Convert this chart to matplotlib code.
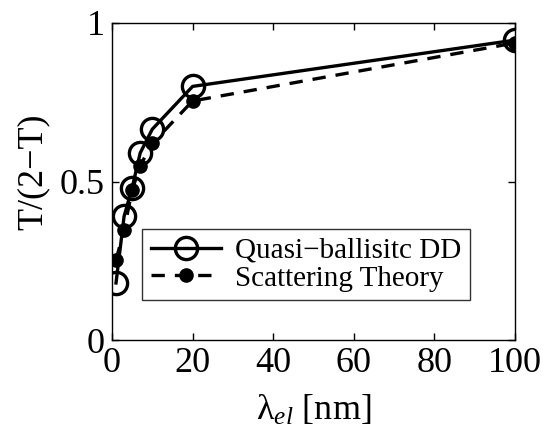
import matplotlib as mpl
mpl.use('Agg')
import matplotlib.pyplot as plt

mpl.rcParams.update({
    'font.family': 'serif',
    'font.serif': ['Liberation Serif', 'DejaVu Serif'],
    'mathtext.fontset': 'custom',
    'mathtext.rm': 'Liberation Serif',
    'mathtext.it': 'Liberation Serif:italic',
})

lam = [1, 3, 5, 7, 10, 20, 100]
dd = [0.18, 0.39, 0.48, 0.59, 0.665, 0.80, 0.946]
st = [0.252, 0.347, 0.473, 0.55, 0.62, 0.754, 0.937]

fig = plt.figure(figsize=(5.5, 4.44), dpi=100)
ax = fig.add_axes([0.2036, 0.2342, 0.7328, 0.714])

ax.plot(lam, dd, '-', color='black', linewidth=2.4, marker='o', markersize=16,
        markerfacecolor='none', markeredgewidth=2.4, label='Quasi\u2212ballisitc DD')
ax.plot(lam, st, '--', color='black', linewidth=2.4, dashes=(4, 3), marker='o', markersize=9.5,
        markerfacecolor='black', label='Scattering Theory')

ax.set_xlim(0, 100)
ax.set_ylim(0, 1)
ax.set_xticks([0, 20, 40, 60, 80, 100])
ax.set_yticks([0, 0.5, 1])
ax.set_yticklabels(['0', '0.5', '1'])
ax.tick_params(direction='in', top=True, right=True, length=5, width=1, labelsize=26, pad=5)
for s in ax.spines.values():
    s.set_linewidth(1)

ax.set_xlabel(r'$\mathrm{λ}_{\mathit{el}}$ [nm]', fontsize=26)
ax.xaxis.set_label_coords(0.5, -0.17)
ax.set_ylabel('T/(2\u2212T)', fontsize=26)
ax.yaxis.set_label_coords(-0.155, 0.53)

leg = ax.legend(loc='lower left', bbox_to_anchor=(0.074, 0.125), fontsize=21, frameon=True,
                fancybox=False, edgecolor='black', handlelength=2.4, borderpad=0.3,
                labelspacing=0.05, handletextpad=0.5, borderaxespad=0)
leg.get_frame().set_linewidth(1)

plt.savefig('out.png', dpi=100)
